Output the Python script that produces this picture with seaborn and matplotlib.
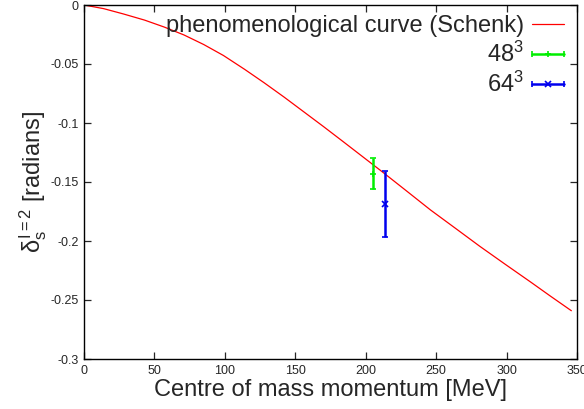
import numpy as np
import pandas as pd
import matplotlib
matplotlib.use('Agg')
import matplotlib.pyplot as plt
import seaborn as sns
from matplotlib.lines import Line2D
from matplotlib.legend_handler import HandlerLine2D, HandlerTuple

# phenomenological curve
curve_p = [0, 14, 28, 43, 57, 71, 85, 99, 114, 128, 142, 156, 170, 184,
           198, 212, 229, 246, 264, 281, 299, 317, 331, 346]
curve_delta = [0.0, -0.0031, -0.0076, -0.0128, -0.0187, -0.0254, -0.0335, -0.0428,
               -0.0545, -0.0660, -0.0780, -0.0905, -0.1030, -0.1158, -0.1287, -0.1416,
               -0.1576, -0.1737, -0.1895, -0.2045, -0.2197, -0.2347, -0.2466, -0.2591]

# lattice points
labels = ['$48^3$', '$64^3$']
p_vals = [205.0, 213.5]
delta_vals = [-0.143, -0.169]
delta_err = [0.013, 0.028]
colors = ['#00ee00', '#0000ee']
markers = ['+', 'x']

sns.set_style('ticks')
plt.rcParams['font.family'] = ['Liberation Sans', 'DejaVu Sans']
plt.rcParams['mathtext.fontset'] = 'custom'
plt.rcParams['mathtext.rm'] = 'Liberation Sans'
plt.rcParams['mathtext.it'] = 'Liberation Sans'
plt.rcParams['mathtext.sf'] = 'Liberation Sans'

fig = plt.figure(figsize=(5.84, 4.09), dpi=100)
ax = fig.add_axes([84 / 584, 1 - 359 / 409, 493 / 584, 354 / 409])

df = pd.DataFrame({'p': curve_p, 'delta': curve_delta})
sns.lineplot(data=df, x='p', y='delta', ax=ax, color='red', lw=0.9, label='_curve')

handles = [Line2D([], [], color='red', lw=0.9)]
leg_labels = ['phenomenological curve (Schenk)']
hmap = {}
for lab, x, y, e, c, m in zip(labels, p_vals, delta_vals, delta_err, colors, markers):
    ax.errorbar([x], [y], yerr=[e], color=c, marker=m, ms=4, mew=1.2,
                lw=1.8, capsize=2, capthick=1.2, ls='none')
    caps = Line2D([], [], color=c, lw=1.8, marker='|', ms=5, mew=1.2)
    mid = Line2D([], [], color=c, lw=0, marker=m, ms=4, mew=1.2)
    hmap[mid] = HandlerLine2D(numpoints=1)
    hmap[caps] = HandlerLine2D(numpoints=2, marker_pad=0)
    handles.append((caps, mid))
    leg_labels.append(lab)
hmap[tuple] = HandlerTuple(ndivide=1, pad=0)

ax.set_xlim(0, 350)
ax.set_ylim(-0.3, 0)
ax.set_xticks([0, 50, 100, 150, 200, 250, 300, 350])
ax.set_yticks([0, -0.05, -0.1, -0.15, -0.2, -0.25, -0.3])
ax.set_yticklabels(['0', '-0.05', '-0.1', '-0.15', '-0.2', '-0.25', '-0.3'])
ax.tick_params(direction='in', length=5, width=0.9, labelsize=9, top=True, right=True, pad=4)
for s in ax.spines.values():
    s.set_linewidth(1.0)
    s.set_color('black')

ax.set_xlabel('Centre of mass momentum [MeV]', fontsize=17, labelpad=2)
ax.set_ylabel(r'$\delta_s^{I=2}$ [radians]', fontsize=17, labelpad=1)

leg = ax.legend(handles, leg_labels, handler_map=hmap, loc='upper right',
                bbox_to_anchor=(564 / 584, 1 - 15 / 409), bbox_transform=fig.transFigure,
                frameon=False, markerfirst=False, fontsize=17, handlelength=1.35,
                handletextpad=0.35, labelspacing=0.2, borderpad=0, borderaxespad=0)
# right-align the legend texts like gnuplot's key
leg._legend_handle_box.get_children()[0].align = 'right'

fig.savefig('out.png', dpi=100)
